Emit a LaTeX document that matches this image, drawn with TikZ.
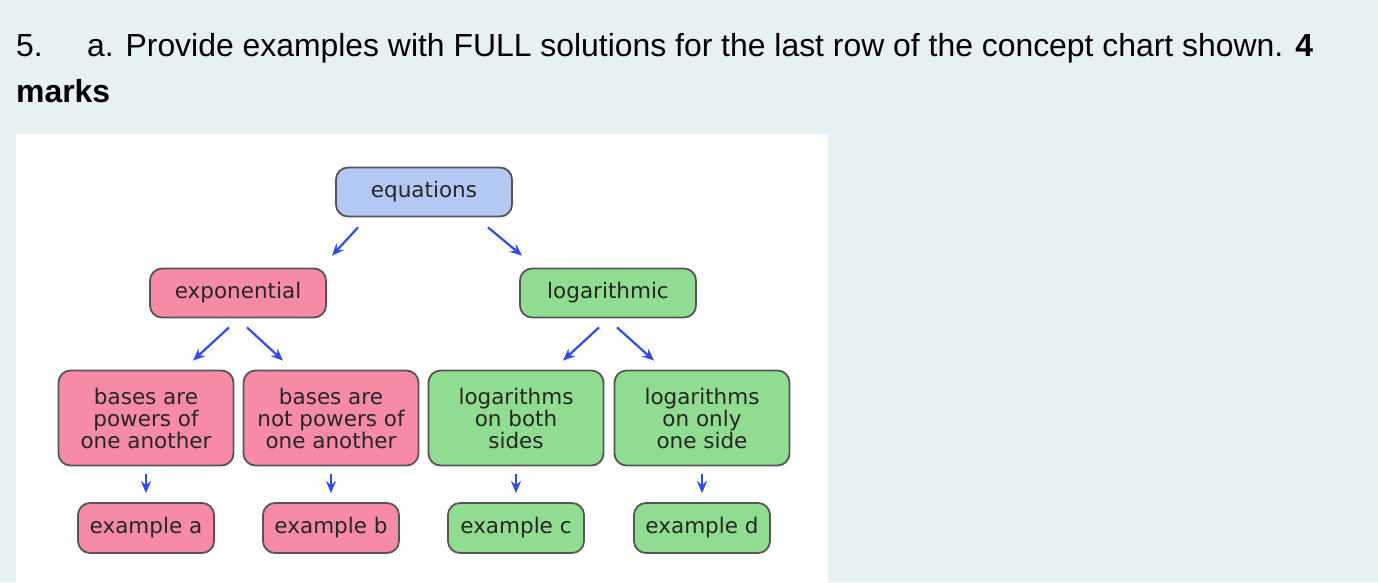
\documentclass[tikz,border=0pt]{standalone}
\usepackage{fontspec}
\setmainfont{Liberation Sans}
\newfontfamily\chartfont{DejaVu Sans}
\usetikzlibrary{arrows.meta, positioning, calc}
\definecolor{PageBg}{HTML}{E6F1F4}
\definecolor{EqBlue}{HTML}{B4C8F4}
\definecolor{ExpPink}{HTML}{F78AA4}
\definecolor{LogGreen}{HTML}{90DC90}
\definecolor{EdgeGray}{HTML}{555555}
\definecolor{LinkBlue}{HTML}{2F4CF2}

\begin{document}
\begin{tikzpicture}[x=1pt, y=-1pt, >={Stealth[length=12pt, width=10pt]},
  box/.style={draw=EdgeGray, line width=1.8pt, rounded corners=12pt,
    text=black!85, align=center, inner sep=0pt,
    font=\chartfont\fontsize{21.5}{22}\selectfont},
  topbox/.style={box, minimum width=176pt, minimum height=49pt},
  casebox/.style={box, minimum width=175pt, minimum height=95pt},
  exbox/.style={box, minimum width=136pt, minimum height=50pt},
  link/.style={->, LinkBlue, line width=2.2pt}]
  % page and panel
  \fill[PageBg] (0,0) rectangle (1378,582);
  \fill[white] (16,134) rectangle (828,582);
  % question text
  \node[anchor=base west, inner sep=0pt, font=\fontsize{31.9}{36}\selectfont] (qnum) at (16,56) {5.};
  \node[anchor=base west, inner sep=0pt, font=\fontsize{31.9}{36}\selectfont] (qtext) at (87,56)
    {a. Provide examples with FULL solutions for the last row of the concept chart shown. \textbf{4}};
  \node[anchor=base west, inner sep=0pt, font=\bfseries\fontsize{31.9}{36}\selectfont] (qmarks) at (16,102) {marks};
  % chart
  \node[topbox, fill=EqBlue] (eq) at (424,192) {equations};
  \node[topbox, fill=ExpPink] (exp) at (238,293) {exponential};
  \node[topbox, fill=LogGreen] (log) at (608,293) {logarithmic};
  \node[casebox, fill=ExpPink] (pow) at (146,418) {bases are\\powers of\\one another};
  \node[casebox, fill=ExpPink] (npow) at (331,418) {bases are\\not powers of\\one another};
  \node[casebox, fill=LogGreen] (both) at (516,418) {logarithms\\on both\\sides};
  \node[casebox, fill=LogGreen] (one) at (702,418) {logarithms\\on only\\one side};
  \node[exbox, fill=ExpPink] (exa) at (146,528) {example a};
  \node[exbox, fill=ExpPink] (exb) at (331,528) {example b};
  \node[exbox, fill=LogGreen] (exc) at (516,528) {example c};
  \node[exbox, fill=LogGreen] (exd) at (702,528) {example d};
  % arrows
  \draw[link] ([xshift=-66pt, yshift=-10pt]eq.south) -- ([xshift=94pt, yshift=12pt]exp.north);
  \draw[link] ([xshift=64pt, yshift=-10pt]eq.south) -- ([xshift=-86pt, yshift=12pt]log.north);
  \draw[link] ([xshift=-9pt, yshift=-9pt]exp.south) -- ([xshift=47pt, yshift=9pt]pow.north);
  \draw[link] ([xshift=9pt, yshift=-9pt]exp.south) -- ([xshift=-48pt, yshift=9pt]npow.north);
  \draw[link] ([xshift=-9pt, yshift=-9pt]log.south) -- ([xshift=47pt, yshift=9pt]both.north);
  \draw[link] ([xshift=9pt, yshift=-9pt]log.south) -- ([xshift=-48pt, yshift=9pt]one.north);
  \foreach \a/\b in {pow/exa, npow/exb, both/exc, one/exd}
    \draw[link, shorten <=8pt, shorten >=9pt] (\a.south) -- (\b.north);
\end{tikzpicture}
\end{document}
